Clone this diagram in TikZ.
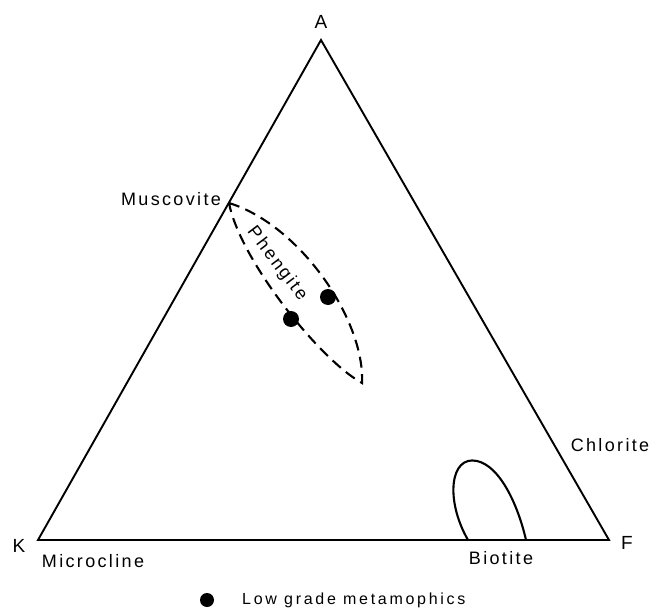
\documentclass[tikz,border=0pt]{standalone}
\usepackage{fontspec}
\setmainfont{Liberation Sans}[LetterSpace=13]
\newfontfamily\vtxfont{Liberation Sans}
\newfontfamily\legfont{Liberation Sans}[LetterSpace=17]
\begin{document}
\begin{tikzpicture}[x=1pt,y=-1pt,
  edge/.style={line width=1.9pt, line join=miter},
  dashline/.style={line width=2.1pt, dash pattern=on 11pt off 6.5pt},
  solidloop/.style={line width=2.1pt},
  lbl/.style={font=\fontsize{18}{21}\selectfont, inner sep=0pt},
  vlbl/.style={font=\vtxfont\fontsize{19}{22}\selectfont, inner sep=0pt},
  dot/.style={circle, fill=black, draw=none, minimum size=16pt, inner sep=0pt},
  legdot/.style={circle, fill=black, draw=none, minimum size=14pt, inner sep=0pt}]
\useasboundingbox (0,0) rectangle (654,613);
% vertices
\coordinate (A) at (321,40);
\coordinate (K) at (38,540);
\coordinate (F) at (609,540);
\coordinate (Mu) at (229,203);
\coordinate (Ptip) at (362,383);
\draw[edge] (A) -- (K) -- (F) -- cycle;
% vertex labels
\node[vlbl] (lA) at (321,22) {A};
\node[vlbl] (lK) at (19,546) {K};
\node[vlbl] (lF) at (627,543) {F};
% mineral labels
\node[lbl] (muscovite) at (171,199) {Muscovite};
\node[lbl] (microcline) at (93,561) {Microcline};
\node[lbl] (chlorite) at (610,445) {Chlorite};
\node[lbl] (biotite) at (501,558) {Biotite};
% phengite field
\draw[dashline] (Mu) .. controls (300,225) and (365,320) .. (Ptip)
  .. controls (320,360) and (240,260) .. (Mu);
\node[lbl, rotate=-53] (phengite) at (277,264) {Phengite};
\node[dot] (d1) at (328,297) {};
\node[dot] (d2) at (291,319) {};
% biotite field
\draw[solidloop] (468,540) .. controls (445,500) and (450,455) .. (477,461)
  .. controls (500,466) and (518,505) .. (526,540);
% legend
\node[legdot] (ld) at (207,600) {};
\node[inner sep=0pt, font=\legfont\fontsize{16}{19}\selectfont, anchor=west] (legtext) at (242,600) {Low grade metamophics};
\end{tikzpicture}
\end{document}
